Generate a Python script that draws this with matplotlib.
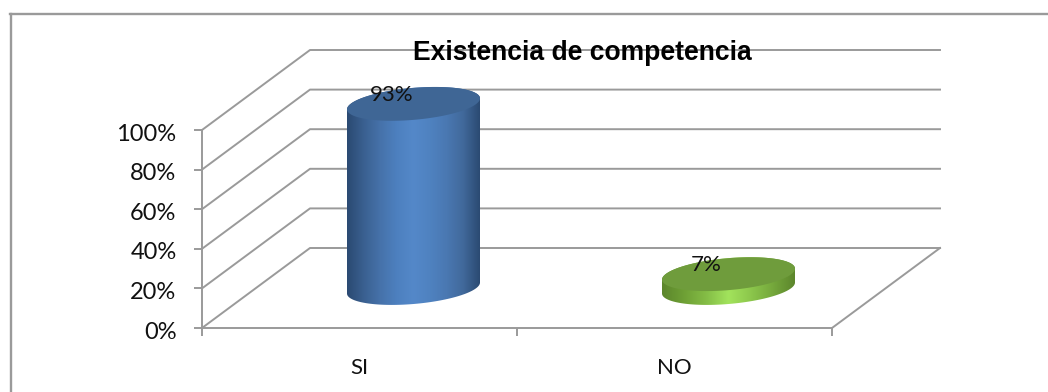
import numpy as np
import matplotlib
matplotlib.use('Agg')
import matplotlib.pyplot as plt
from matplotlib.colors import LinearSegmentedColormap
from matplotlib.lines import Line2D
from matplotlib.patches import Polygon
from matplotlib.transforms import ScaledTranslation

categories = ['SI', 'NO']
values = [93, 7]
value_labels = ['93%', '7%']
y_ticks = [0, 20, 40, 60, 80, 100]
y_tick_labels = ['0%', '20%', '40%', '60%', '80%', '100%']
title = 'Existencia de competencia'

W, H = 1048, 392
GRAY = '#9a9a9a'
plt.rcParams['font.family'] = ['Lato', 'DejaVu Sans']

fig = plt.figure(figsize=(W / 100, H / 100), dpi=100)
# los ejes son el plano frontal del grafico 3D
left, right, top, bottom = 202, 832, 130, 328
ax = fig.add_axes([left / W, 1 - bottom / H, (right - left) / W, (bottom - top) / H])
ax.set_xlim(0, 2)
ax.set_ylim(0, 100)
ax.patch.set_visible(False)

px_x = 2 / (right - left)
px_y = 100 / (bottom - top)
depth_x = 108 * px_x
depth_y = 80 * px_y

# marco exterior
fig.add_artist(Line2D([10.5 / W, 10.5 / W], [0, 1 - 13.5 / H], color=GRAY, lw=1.7))
fig.add_artist(Line2D([10 / W, 1], [1 - 13.5 / H, 1 - 13.5 / H], color=GRAY, lw=1.7))

# paredes y rejilla
for v in y_ticks:
    ax.plot([0, depth_x, 2 + depth_x], [v, v + depth_y, v + depth_y],
            color=GRAY, lw=1.4, clip_on=False, zorder=1)
ax.plot([2, 2 + depth_x], [0, depth_y], color=GRAY, lw=1.4, clip_on=False, zorder=1)

# ejes reales con sus marcas
for s in ['top', 'right']:
    ax.spines[s].set_visible(False)
for s in ['left', 'bottom']:
    ax.spines[s].set_color(GRAY)
    ax.spines[s].set_linewidth(1.4)
ax.set_yticks(y_ticks, y_tick_labels, fontsize=17, color='#111111')
ax.set_xticks([0, 1, 2], ['', '', ''])
ax.set_xticks([0.5, 1.5], categories, minor=True, fontsize=16, color='#111111')
ax.tick_params(axis='both', which='major', color=GRAY, length=5.8, width=1.4)
ax.tick_params(axis='y', pad=12.5)
ax.tick_params(axis='x', which='minor', length=0, pad=21.5)
# las etiquetas del eje Y van un poco por debajo de su marca
shift = ScaledTranslation(0, -1.5 / 72, fig.dpi_scale_trans)
for lab in ax.get_yticklabels():
    lab.set_transform(lab.get_transform() + shift)


def ellipse(cx, cy, t):
    a = 66.5 * px_x
    b = 16 * px_y
    k = 5.5 * px_y
    return cx + a * np.cos(t), cy - b * np.sin(t) + k * np.cos(t)


def cylinder(cx, value, side_colors, top_color, zorder):
    base = depth_y / 2
    tb = np.linspace(0, np.pi, 80)
    tt = np.linspace(np.pi, 2 * np.pi, 80)
    xb, yb = ellipse(cx, base, tb)
    xt, yt = ellipse(cx, base + value, tt)
    side = Polygon(np.column_stack([np.r_[xb, xt], np.r_[yb, yt]]), closed=True,
                   transform=ax.transData, fc='none', ec='none')
    ax.add_patch(side)
    cmap = LinearSegmentedColormap.from_list('side', side_colors)
    grad = np.linspace(0, 1, 256).reshape(1, -1)
    im = ax.imshow(grad, cmap=cmap, aspect='auto', interpolation='bilinear',
                   extent=[xb.min(), xb.max(), yb.min(), yt.max()], zorder=zorder)
    # sin esto la imagen se recorta al rectangulo de los ejes
    im.set_clip_box(fig.bbox)
    im.set_clip_path(side)
    t = np.linspace(0, 2 * np.pi, 160)
    xe, ye = ellipse(cx, base + value, t)
    ax.fill(xe, ye, color=top_color, lw=0, clip_on=False, zorder=zorder + 1)


blue_side = ['#2b4a72', '#3a6090', '#4672aa', '#4d80bf', '#5488c9', '#4f82c0', '#4a78b2', '#41699b', '#2b4a72']
green_side = ['#5c862c', '#6ea035', '#84bd46', '#a2e35c', '#8cc74c', '#75a83c', '#5c862c']
tops = ['#3f6695', '#6f9c3c']
sides = [blue_side, green_side]
for i, v in enumerate(values):
    cx = i + 0.5 + depth_x / 2
    cylinder(cx, v, sides[i], tops[i], 3)
    ax.annotate(value_labels[i], (cx, depth_y / 2 + v), xytext=(-22 * 0.72, 9 * 0.72),
                textcoords='offset points', ha='center', va='center',
                fontsize=16, color='#111111', annotation_clip=False, zorder=6)

ax.set_xlim(0, 2)
ax.set_ylim(0, 100)

fig.text(582 / W, 1 - 53.5 / H, title, ha='center', va='center', fontsize=19.1,
         fontweight='bold', family=['Liberation Sans'], color='black', zorder=10)

fig.savefig('out.png', dpi=100, facecolor='white')
